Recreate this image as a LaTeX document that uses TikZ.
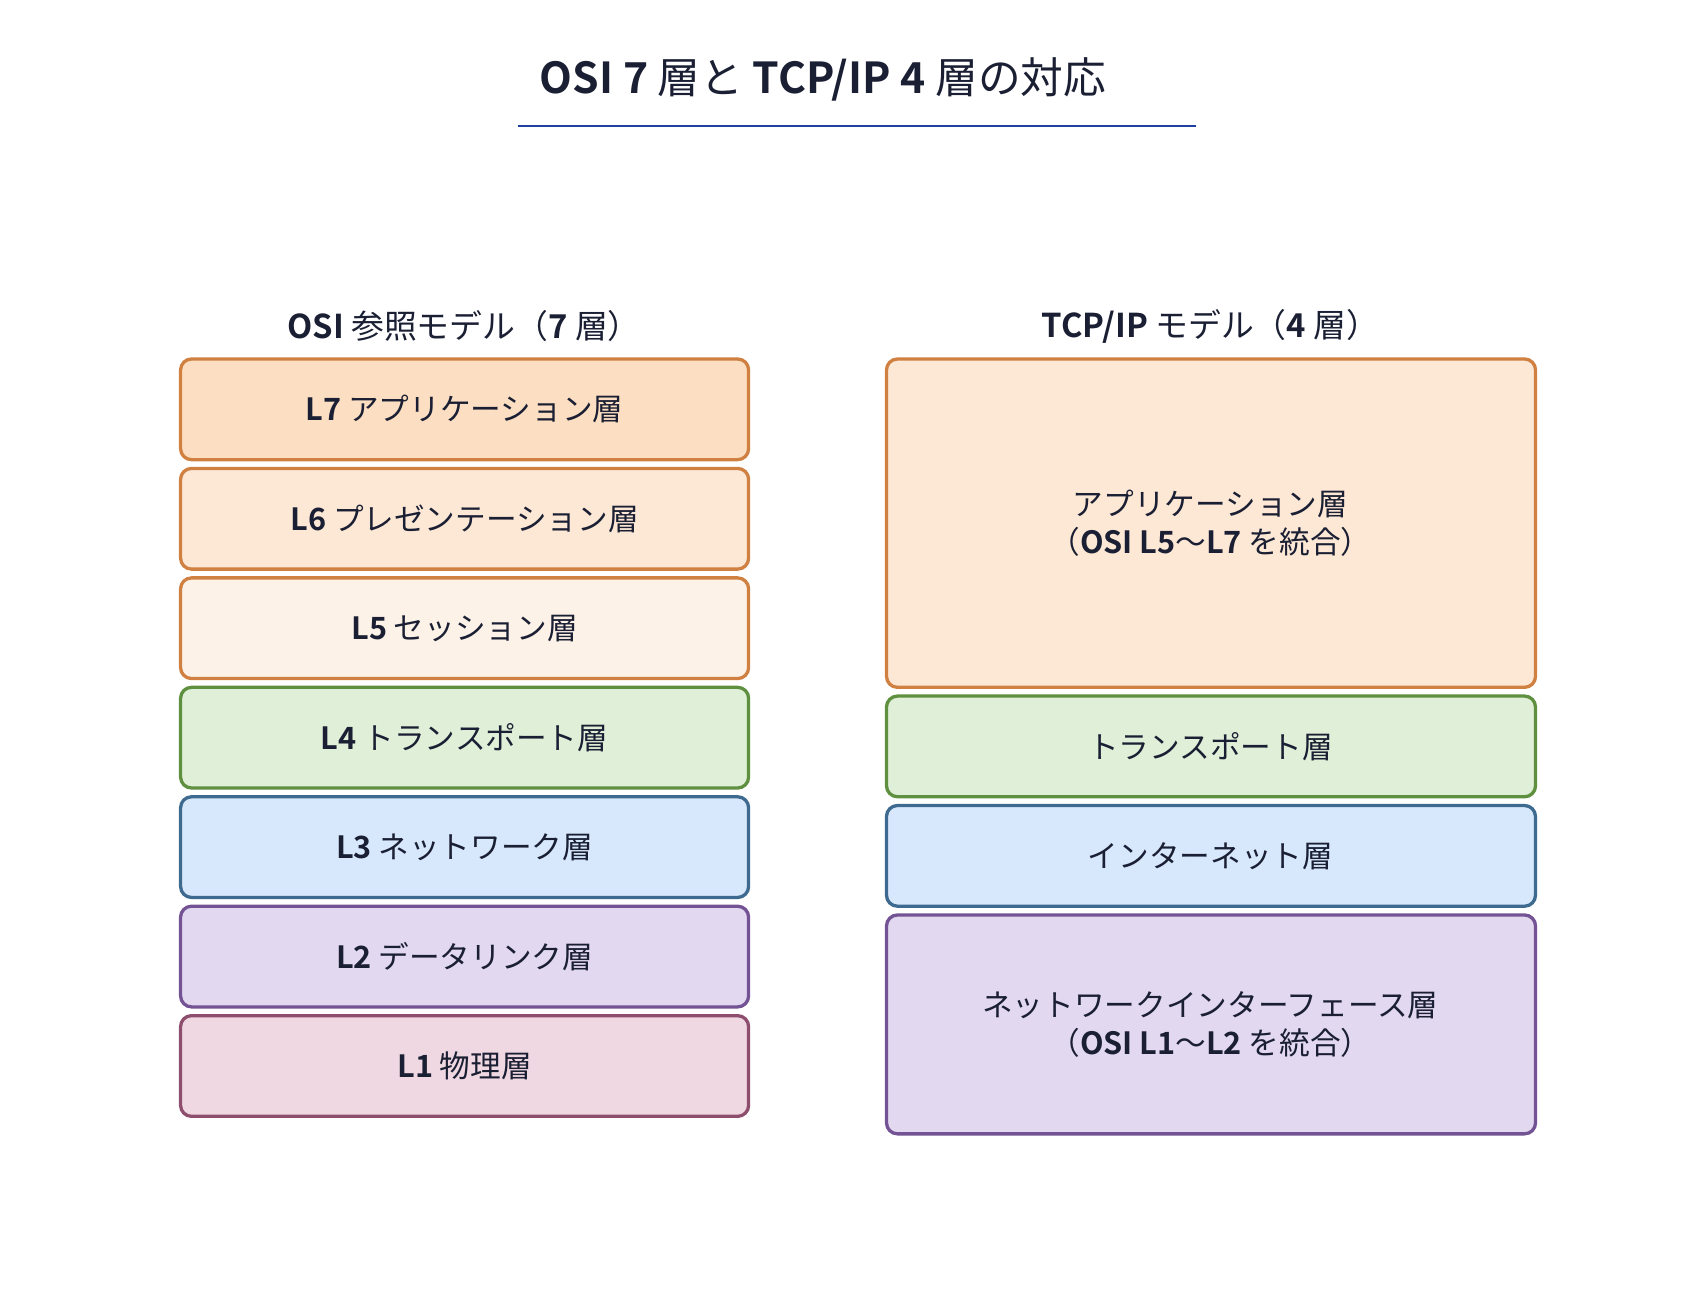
\documentclass[tikz,border=0pt]{standalone}
\usepackage{fontspec}
\setmainfont{Noto Sans CJK JP}[BoldFont={Noto Sans CJK JP Bold}]
\definecolor{ink}{HTML}{1A1F33}
\definecolor{oB}{HTML}{D08040}\definecolor{f7}{HTML}{FCDFC2}\definecolor{f6}{HTML}{FDE8D6}\definecolor{f5}{HTML}{FDF2E8}
\definecolor{gB}{HTML}{5E9040}\definecolor{gF}{HTML}{E0EFD8}
\definecolor{bB}{HTML}{3E6A90}\definecolor{bF}{HTML}{D8E8FC}
\definecolor{pB}{HTML}{735394}\definecolor{pF}{HTML}{E2D8F0}
\definecolor{rB}{HTML}{8E4E6E}\definecolor{rF}{HTML}{F0D8E2}
\definecolor{tl}{HTML}{2040A0}
\begin{document}
\begin{tikzpicture}[x=0.5pt,y=-0.5pt,
 lay/.style={draw=#1,line width=1.5pt,rounded corners=5pt},
 lbl/.style={text=ink,font=\fontsize{14}{17}\selectfont,align=center}]
\useasboundingbox (0,0) rectangle (1546,1184);
\node[text=ink,font=\fontsize{19.5}{22}\selectfont] (title) at (752,73) {\textbf{OSI 7} 層と \textbf{TCP/IP 4} 層の対応};
\coordinate (ta) at (473,115); \coordinate (tb) at (1093,115);
\draw[tl,line width=0.8pt] (ta) -- (tb);
\node[lbl,font=\fontsize{15}{18}\selectfont] (h1) at (424,298) {\textbf{OSI} 参照モデル（\textbf{7} 層）};
\node[lbl,font=\fontsize{15}{18}\selectfont] (h2) at (1106,298) {\textbf{TCP/IP} モデル（\textbf{4} 層）};
\foreach \y/\f/\b/\t [count=\i] in {328/f7/oB/{\textbf{L7} アプリケーション層},428/f6/oB/{\textbf{L6} プレゼンテーション層},528/f5/oB/{\textbf{L5} セッション層},628/gF/gB/{\textbf{L4} トランスポート層},728/bF/bB/{\textbf{L3} ネットワーク層},828/pF/pB/{\textbf{L2} データリンク層},928/rF/rB/{\textbf{L1} 物理層}}{
 \filldraw[lay=\b,fill=\f] (165,\y) rectangle (684,\y+92);
 \node[lbl] (osi\i) at (424.5,\y+46) {\t};
}
\filldraw[lay=oB,fill=f6] (810,328) rectangle (1403,628);
\node[lbl] (app) at (1106,478) {アプリケーション層\\（\textbf{OSI L5}〜\textbf{L7} を統合）};
\filldraw[lay=gB,fill=gF] (810,636) rectangle (1403,728);
\node[lbl] (tr) at (1106,682) {トランスポート層};
\filldraw[lay=bB,fill=bF] (810,736) rectangle (1403,828);
\node[lbl] (in) at (1106,782) {インターネット層};
\filldraw[lay=pB,fill=pF] (810,836) rectangle (1403,1036);
\node[lbl] (nif) at (1106,936) {ネットワークインターフェース層\\（\textbf{OSI L1}〜\textbf{L2} を統合）};
\end{tikzpicture}
\end{document}
